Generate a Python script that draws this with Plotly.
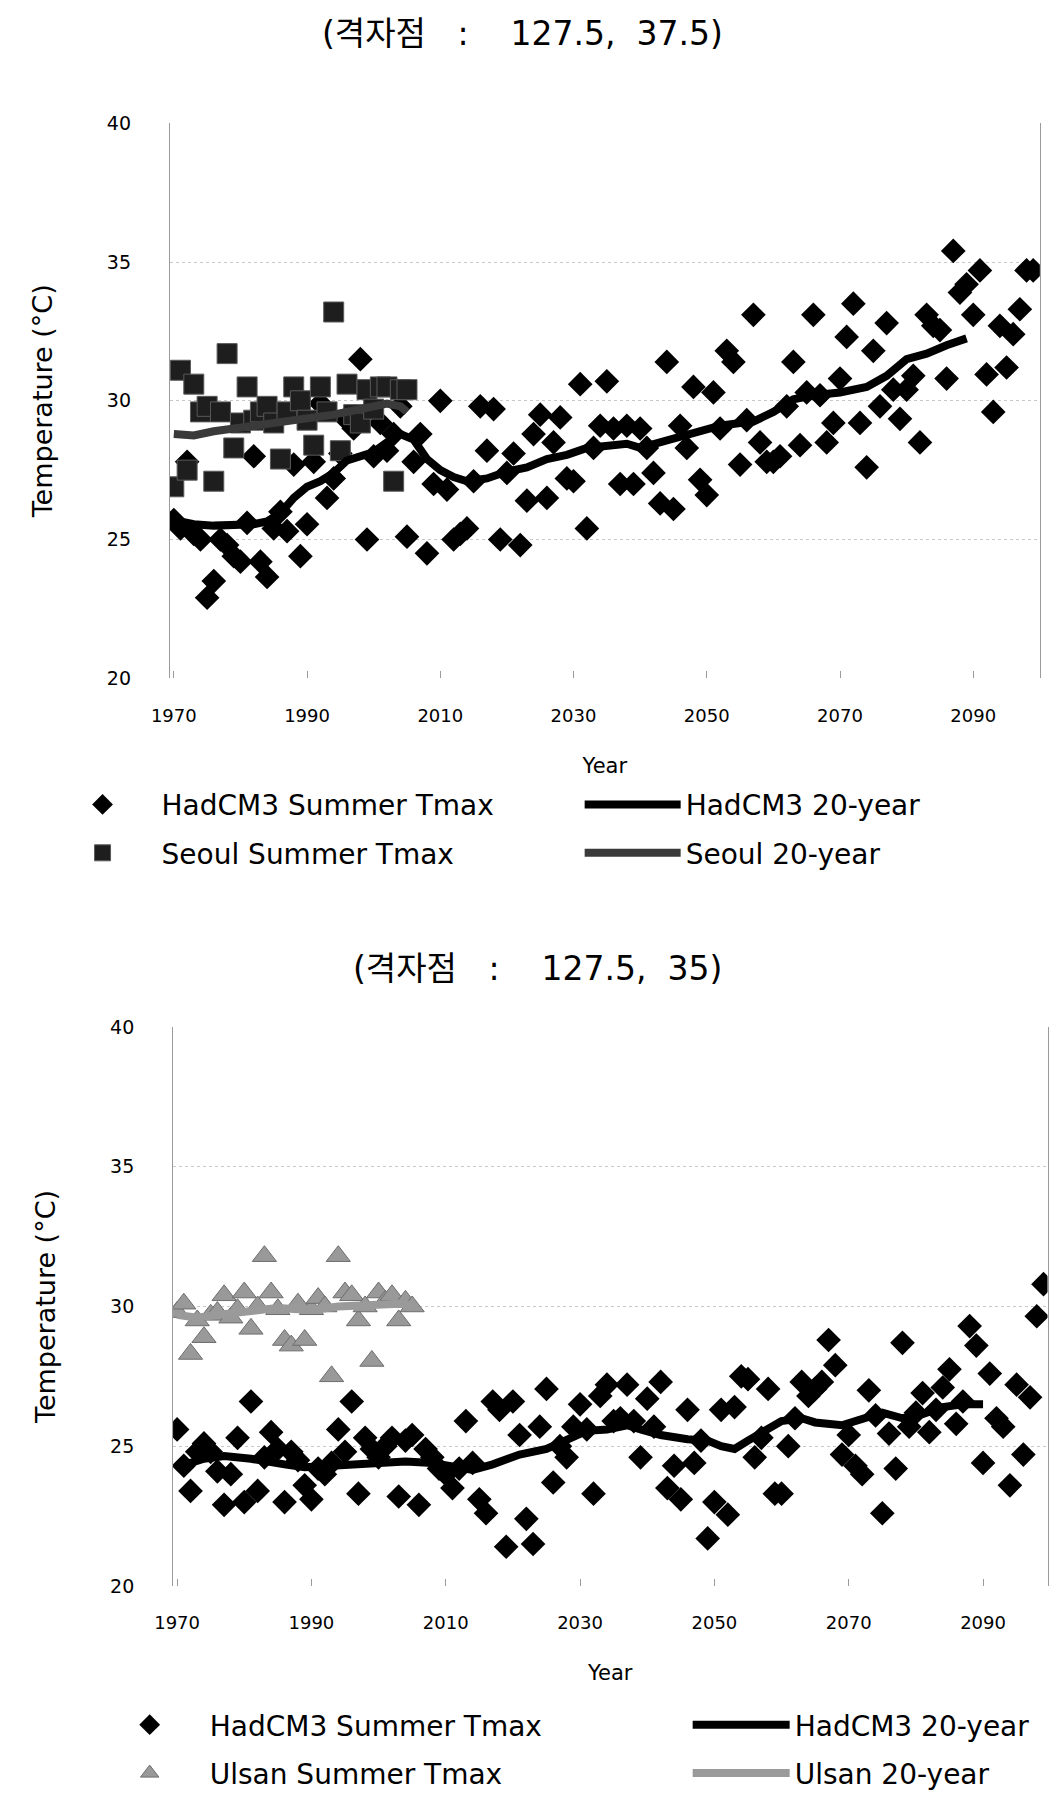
import plotly.graph_objects as go

W, H = 1049, 1798

years = list(range(1970, 2100))
obs_years = list(range(1970, 2006))
x_ticks = [1970, 1990, 2010, 2030, 2050, 2070, 2090]
y_ticks = [20, 25, 30, 35, 40]

# ---------- Top panel (grid point 127.5, 37.5) ----------
had_top = [
    25.7, 25.4, 27.8, 25.2, 25.0, 22.9, 23.5, 25.0, 24.8, 24.4,
    24.2, 25.6, 28.0, 24.2, 23.65, 25.4, 26.0, 25.3, 27.7, 24.4,
    25.55, 27.8, 29.9, 26.5, 27.2, 28.1, 29.3, 29.0, 31.5, 25.0,
    28.0, 29.2, 28.2, 28.8, 29.8, 25.1, 27.8, 28.8, 24.5, 27.0,
    30.0, 26.8, 25.0, 25.2, 25.4, 27.1, 29.8, 28.2, 29.7, 25.0,
    27.4, 28.1, 24.8, 26.4, 28.8, 29.5, 26.5, 28.5, 29.4, 27.2,
    27.1, 30.6, 25.4, 28.3, 29.1, 30.7, 29.0, 27.0, 29.1, 27.0,
    29.0, 28.3, 27.4, 26.3, 31.4, 26.1, 29.1, 28.3, 30.5, 27.15,
    26.6, 30.3, 29.0, 31.8, 31.4, 27.7, 29.3, 33.1, 28.5, 27.8,
    27.8, 28.0, 29.8, 31.4, 28.4, 30.3, 33.1, 30.2, 28.5, 29.2,
    30.8, 32.3, 33.5, 29.2, 27.6, 31.8, 29.8, 32.8, 30.4, 29.35,
    30.4, 30.9, 28.5, 33.1, 32.7, 32.55, 30.8, 35.4, 33.9, 34.2,
    33.1, 34.7, 30.95, 29.6, 32.7, 31.2, 32.4, 33.3, 34.7, 34.7,
]
seoul = [
    26.9, 31.1, 27.5, 30.6, 29.6, 29.8, 27.1, 29.6, 31.7, 28.3,
    29.2, 30.5, 29.3, 29.6, 29.8, 29.2, 27.9, 29.6, 30.5, 30.0,
    29.3, 28.4, 30.5, 29.6, 33.2, 28.2, 30.6, 29.5, 29.2, 30.4,
    29.7, 30.5, 30.5, 27.1, 30.4, 30.4,
]
had_top_ma_years = [
    1970, 1973, 1976, 1979, 1982, 1984, 1986, 1988, 1990, 1992,
    1994, 1996, 1998, 2000, 2002, 2004, 2006, 2008, 2010, 2012,
    2014, 2017, 2020, 2023, 2026, 2029, 2032, 2035, 2038, 2040,
    2043, 2046, 2050, 2052, 2055, 2057, 2060, 2063, 2066, 2070,
    2074, 2077, 2080, 2083, 2086, 2089,
]
had_top_ma = [
    25.7, 25.55, 25.5, 25.5, 25.55, 25.65, 25.95, 26.5, 26.9, 27.1,
    27.4, 27.85, 28.0, 28.15, 28.5, 28.8, 28.6, 27.9, 27.5, 27.25,
    27.1, 27.2, 27.45, 27.6, 27.9, 28.05, 28.3, 28.4, 28.45, 28.3,
    28.5, 28.75, 29.0, 29.1, 29.2, 29.25, 29.6, 30.05, 30.2, 30.3,
    30.5, 30.9, 31.5, 31.7, 32.0, 32.25,
]
seoul_ma_years = [1970, 1973, 1976, 1979, 1982, 1985, 1988, 1991, 1994, 1997, 2000, 2002, 2004, 2005]
seoul_ma = [28.8, 28.75, 28.9, 29.0, 29.05, 29.15, 29.3, 29.4, 29.5, 29.65, 29.8, 29.9, 29.8, 29.6]

# ---------- Bottom panel (grid point 127.5, 35) ----------
had_bot = [
    25.6, 24.3, 23.4, 24.8, 25.1, 24.8, 24.1, 22.9, 24.0, 25.3,
    23.0, 26.6, 23.4, 24.6, 25.5, 24.9, 23.0, 24.8, 24.5, 23.6,
    23.1, 24.2, 24.0, 24.4, 25.6, 24.8, 26.6, 23.3, 25.3, 24.9,
    24.6, 25.0, 25.3, 23.2, 25.2, 25.4, 22.9, 24.9, 24.6, 24.2,
    24.0, 23.5, 24.2, 25.9, 24.4, 23.1, 22.6, 26.6, 26.3, 21.4,
    26.6, 25.4, 22.4, 21.5, 25.7, 27.05, 23.7, 25.0, 24.6, 25.7,
    26.5, 25.6, 23.3, 26.8, 27.2, 25.9, 26.0, 27.2, 25.9, 24.6,
    26.7, 25.7, 27.3, 23.5, 24.3, 23.1, 26.3, 24.4, 25.2, 21.7,
    23.0, 26.3, 22.55, 26.4, 27.5, 27.4, 24.6, 25.3, 27.05, 23.3,
    23.3, 25.0, 26.0, 27.3, 26.8, 27.05, 27.3, 28.8, 27.9, 24.7,
    25.4, 24.3, 24.0, 27.0, 26.1, 22.6, 25.45, 24.2, 28.7, 25.7,
    26.2, 26.9, 25.5, 26.3, 27.1, 27.75, 25.8, 26.6, 29.3, 28.6,
    24.4, 27.6, 26.0, 25.7, 23.6, 27.2, 24.7, 26.75, 29.65, 30.8,
]
ulsan = [
    29.8, 30.1, 28.3, 29.5, 28.9, 29.7, 29.8, 30.4, 29.6, 29.9,
    30.5, 29.2, 30.0, 31.8, 30.5, 29.9, 28.8, 28.6, 30.1, 28.8,
    29.9, 30.3, 30.0, 27.5, 31.8, 30.5, 30.4, 29.5, 30.0, 28.05,
    30.5, 30.2, 30.4, 29.5, 30.2, 30.0,
]
had_bot_ma_years = [
    1970, 1974, 1977, 1981, 1986, 1989, 1993, 1997, 2001, 2004,
    2008, 2011, 2014, 2017, 2021, 2025, 2028, 2031, 2034, 2037,
    2039, 2042, 2046, 2049, 2051, 2053, 2055, 2058, 2060, 2063,
    2065, 2069, 2072, 2075, 2078, 2081, 2084, 2087, 2090,
]
had_bot_ma = [
    24.25, 24.55, 24.65, 24.55, 24.35, 24.25, 24.3, 24.35, 24.35, 24.45,
    24.4, 24.25, 24.15, 24.35, 24.7, 24.9, 25.25, 25.55, 25.6, 25.75,
    25.6, 25.4, 25.25, 25.2, 25.0, 24.9, 25.2, 25.6, 25.9, 26.0,
    25.85, 25.75, 26.0, 26.2, 26.0, 26.15, 26.4, 26.5, 26.5,
]
ulsan_ma_years = [1970, 1973, 1976, 1979, 1982, 1985, 1988, 1991, 1994, 1997, 2000, 2003, 2005]
ulsan_ma = [29.7, 29.6, 29.7, 29.8, 29.9, 29.95, 29.9, 29.9, 30.0, 30.05, 30.05, 30.1, 30.05]

TXT = "DejaVu Sans"
TITLE_FONT = "DejaVu Sans, Noto Sans CJK KR"
NB = "\u00a0"


def px_x(p):
    return p / W


def px_y(p):
    return 1 - p / H


fig = go.Figure()

# top panel traces
fig.add_trace(go.Scatter(x=years, y=had_top, mode="markers", name="HadCM3 Summer Tmax",
                         marker=dict(symbol="diamond", size=19, color="black"),
                         xaxis="x", yaxis="y", legend="legend", legendgroup="a"))
fig.add_trace(go.Scatter(x=obs_years, y=seoul, mode="markers", name="Seoul Summer Tmax",
                         marker=dict(symbol="square", size=20, color="#1e1e1e",
                                     line=dict(color="#5a5a5a", width=1)),
                         xaxis="x", yaxis="y", legend="legend", legendgroup="b"))
fig.add_trace(go.Scatter(x=had_top_ma_years, y=had_top_ma, mode="lines", name="HadCM3 20-year",
                         line=dict(color="black", width=8),
                         xaxis="x", yaxis="y", legend="legend2", legendgroup="c"))
fig.add_trace(go.Scatter(x=seoul_ma_years, y=seoul_ma, mode="lines", name="Seoul 20-year",
                         line=dict(color="#3a3a3a", width=8),
                         xaxis="x", yaxis="y", legend="legend2", legendgroup="d"))

# bottom panel traces
fig.add_trace(go.Scatter(x=years, y=had_bot, mode="markers", name="HadCM3 Summer Tmax",
                         marker=dict(symbol="diamond", size=19, color="black"),
                         xaxis="x2", yaxis="y2", legend="legend3", legendgroup="e"))
fig.add_trace(go.Scatter(x=obs_years, y=ulsan, mode="markers", name="Ulsan Summer Tmax",
                         marker=dict(symbol="triangle-up", size=21, color="#999999",
                                     line=dict(color="#6e6e6e", width=1)),
                         xaxis="x2", yaxis="y2", legend="legend3", legendgroup="f"))
fig.add_trace(go.Scatter(x=had_bot_ma_years, y=had_bot_ma, mode="lines", name="HadCM3 20-year",
                         line=dict(color="black", width=8),
                         xaxis="x2", yaxis="y2", legend="legend4", legendgroup="g"))
fig.add_trace(go.Scatter(x=ulsan_ma_years, y=ulsan_ma, mode="lines", name="Ulsan 20-year",
                         line=dict(color="#9a9a9a", width=8),
                         xaxis="x2", yaxis="y2", legend="legend4", legendgroup="h"))

common_x = dict(
    tickmode="array", tickvals=x_ticks, ticktext=[str(v) for v in x_ticks],
    showgrid=False, zeroline=False, showline=False,
    ticks="inside", ticklen=7, tickcolor="#9a9a9a", tickwidth=1,
    tickfont=dict(family=TXT, size=18, color="black"),
    title=dict(text="Year", font=dict(family=TXT, size=21, color="black"), standoff=33),
)
common_y = dict(
    range=[20, 40], tickmode="array", tickvals=y_ticks,
    showgrid=True, gridcolor="#c8c8c8", griddash="dot", gridwidth=1,
    zeroline=False, showline=True, linecolor="#9a9a9a", linewidth=1, mirror=True,
    ticks="", tickfont=dict(family=TXT, size=19, color="black"),
    ticklabelstandoff=34,
)
ytitle_font = dict(family=TXT, size=27, color="black")

legend_base = dict(
    orientation="v", xanchor="left", yanchor="top", bgcolor="rgba(0,0,0,0)",
    borderwidth=0, font=dict(family=TXT, size=28, color="black"),
    traceorder="grouped", tracegroupgap=9,
)

title_top = "(격자점" + NB * 3 + ":" + NB * 4 + "127.5," + NB * 2 + "37.5)"
title_bot = "(격자점" + NB * 3 + ":" + NB * 4 + "127.5," + NB * 2 + "35)"

fig.update_layout(
    width=W, height=H,
    margin=dict(l=0, r=0, t=0, b=0),
    paper_bgcolor="white", plot_bgcolor="white",
    showlegend=True,
    xaxis=dict(common_x, domain=[px_x(153.6), px_x(1039.7)], range=[1969.4, 2100.0],
               anchor="y", ticklabelstandoff=25),
    yaxis=dict(common_y, domain=[px_y(677), px_y(114)], anchor="x",
               title=dict(text="Temperature (°C)" + NB * 4, font=ytitle_font, standoff=46)),
    xaxis2=dict(common_x, domain=[px_x(156.9), px_x(1047.5)], range=[1969.4, 2099.6],
                anchor="y2", ticklabelstandoff=24),
    yaxis2=dict(common_y, domain=[px_y(1598), px_y(1031)], anchor="x2",
                title=dict(text="Temperature (°C)", font=ytitle_font, standoff=46)),
    legend=dict(legend_base, x=px_x(25), y=px_y(780), itemwidth=108),
    legend2=dict(legend_base, x=px_x(571), y=px_y(780), itemwidth=96),
    legend3=dict(legend_base, x=px_x(72), y=px_y(1714), itemwidth=110),
    legend4=dict(legend_base, x=px_x(681), y=px_y(1714), itemwidth=97),
    annotations=[
        dict(text=title_top, x=px_x(513), y=px_y(23), xref="paper", yref="paper",
             xanchor="center", yanchor="middle", showarrow=False,
             font=dict(family=TITLE_FONT, size=33, color="black")),
        dict(text=title_bot, x=px_x(528), y=px_y(972), xref="paper", yref="paper",
             xanchor="center", yanchor="middle", showarrow=False,
             font=dict(family=TITLE_FONT, size=33, color="black")),
    ],
)

fig.write_html("out.html")
